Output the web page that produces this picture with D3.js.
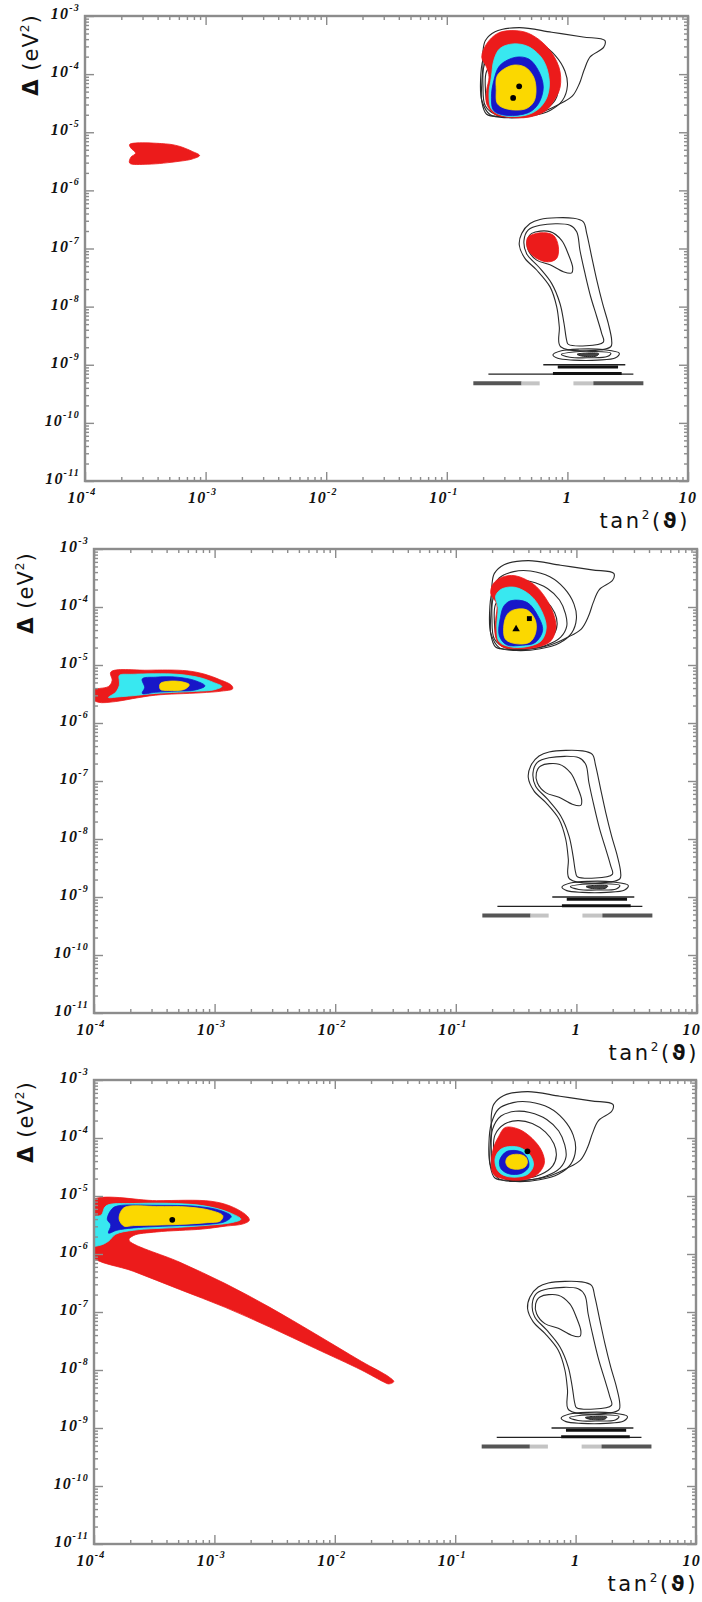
<!DOCTYPE html>
<html>
<head>
<meta charset="utf-8">
<script src="https://cdn.jsdelivr.net/npm/d3@7"></script>
<style>
  html, body { margin: 0; padding: 0; background: #fff; }
  svg { display: block; }
</style>
</head>
<body>
<svg id="chart" width="702" height="1602"></svg>
<script>
// Allowed regions in the (tan^2 theta, Delta m^2) plane.
// Every point is [log10 tan^2(theta), log10 Delta m^2 / eV^2].

// Axis ticks (decade exponents) and their labels
const xTickExps = [-4, -3, -2, -1, 0, 1];
const xTickLabels = [["10", "-4"], ["10", "-3"], ["10", "-2"], ["10", "-1"], ["1", ""], ["10", ""]];
const yTickExps = [-3, -4, -5, -6, -7, -8, -9, -10, -11];
const yTickLabels = yTickExps.map(e => ["10", String(e)]);

// Reference contours common to all three panels (thin black lines)
const lmaRefOuter = [[-0.68,-3.42],[-0.60,-3.27],[-0.40,-3.20],[-0.13,-3.28],[0.13,-3.36],[0.31,-3.42],[0.30,-3.54],
  [0.19,-3.70],[0.14,-3.92],[0.10,-4.16],[0.04,-4.38],[-0.08,-4.53],[-0.21,-4.65],[-0.38,-4.72],[-0.55,-4.73],
  [-0.67,-4.69],[-0.71,-4.47],[-0.71,-4.16],[-0.70,-3.85],[-0.70,-3.61]];
const lmaRef2 = [[-0.70,-3.75],[-0.64,-3.50],[-0.52,-3.39],[-0.38,-3.38],[-0.22,-3.48],[-0.10,-3.68],[-0.02,-3.95],
  [0.0,-4.20],[-0.04,-4.45],[-0.14,-4.62],[-0.30,-4.72],[-0.50,-4.75],[-0.64,-4.70],[-0.71,-4.45],[-0.72,-4.10]];
const lmaRef3 = [[-0.69,-3.85],[-0.62,-3.62],[-0.50,-3.54],[-0.38,-3.56],[-0.24,-3.68],[-0.14,-3.88],[-0.09,-4.12],
  [-0.08,-4.33],[-0.13,-4.52],[-0.25,-4.66],[-0.42,-4.73],[-0.58,-4.71],[-0.68,-4.55],[-0.70,-4.20]];
const lmaRef4 = [[-0.67,-3.95],[-0.59,-3.76],[-0.48,-3.70],[-0.36,-3.75],[-0.25,-3.90],[-0.18,-4.10],[-0.16,-4.30],
  [-0.19,-4.48],[-0.29,-4.63],[-0.44,-4.70],[-0.58,-4.68],[-0.66,-4.52],[-0.68,-4.25]];

const lowRefOuter = [[-0.310,-6.57],[-0.227,-6.50],[0.049,-6.48],[0.132,-6.54],[0.160,-6.74],[0.201,-7.14],[0.243,-7.54],
  [0.292,-7.95],[0.339,-8.29],[0.367,-8.58],[0.359,-8.69],[-0.056,-8.69],[-0.067,-8.35],[-0.089,-8.00],[-0.144,-7.66],
  [-0.255,-7.37],[-0.352,-7.17],[-0.399,-6.94],[-0.379,-6.74]];
const lowRefMid = [[-0.324,-6.68],[-0.227,-6.60],[0.021,-6.60],[0.077,-6.71],[0.104,-7.03],[0.146,-7.43],[0.193,-7.83],
  [0.243,-8.17],[0.284,-8.46],[0.298,-8.61],[0.008,-8.65],[-0.006,-8.58],[-0.028,-8.29],[-0.061,-7.95],[-0.131,-7.60],
  [-0.241,-7.31],[-0.338,-7.09],[-0.360,-6.86]];
const lowRefInner = [[-0.296,-6.74],[-0.144,-6.71],[-0.048,-6.86],[0.008,-7.10],[0.044,-7.33],[0.036,-7.42],[-0.034,-7.40],
  [-0.144,-7.28],[-0.255,-7.20],[-0.324,-7.03],[-0.332,-6.86]];

const vacLoopOuter = [[-0.12,-8.83],[-0.05,-8.76],[0.10,-8.73],[0.30,-8.74],[0.43,-8.80],[0.40,-8.88],[0.25,-8.92],[0.05,-8.92],[-0.08,-8.89]];
const vacLoopMid = [[-0.05,-8.82],[0.05,-8.78],[0.20,-8.77],[0.36,-8.80],[0.33,-8.86],[0.18,-8.88],[0.02,-8.87]];
const vacLoopInner = [[0.08,-8.82],[0.15,-8.80],[0.26,-8.81],[0.24,-8.85],[0.12,-8.85]];

// Narrow vacuum-oscillation strips: [log tan^2 from, log tan^2 to, log Delta m^2, kind]
const vacStrips = [
  [-0.20, 0.48, -9.00, "thin"],
  [-0.08, 0.42, -9.04, "dark"],
  [-0.655, 0.547, -9.16, "thin"],
  [-0.12, 0.45, -9.15, "dark"],
  [-0.78, -0.38, -9.32, "grey"],
  [-0.38, -0.23, -9.32, "pale"],
  [0.05, 0.215, -9.32, "pale"],
  [0.215, 0.63, -9.32, "grey"]
];

// Panel (a)
const a_smaRed = [[-3.63,-5.21],[-3.33,-5.20],[-3.22,-5.24],[-3.11,-5.33],[-3.05,-5.40],[-3.11,-5.46],[-3.22,-5.50],
  [-3.48,-5.55],[-3.63,-5.53],[-3.62,-5.43],[-3.58,-5.36],[-3.62,-5.27]];
const a_lmaRed = [[-0.46,-3.25],[-0.32,-3.30],[-0.17,-3.53],[-0.07,-3.88],[-0.06,-4.22],[-0.11,-4.45],[-0.18,-4.63],
  [-0.32,-4.74],[-0.50,-4.74],[-0.61,-4.68],[-0.67,-4.51],[-0.67,-4.28],[-0.65,-4.05],[-0.67,-3.88],[-0.71,-3.71],
  [-0.67,-3.48],[-0.58,-3.30]];
const a_lmaCyan = [[-0.45,-3.48],[-0.32,-3.53],[-0.20,-3.76],[-0.15,-4.11],[-0.17,-4.40],[-0.24,-4.60],[-0.35,-4.71],
  [-0.54,-4.71],[-0.63,-4.60],[-0.65,-4.34],[-0.63,-4.05],[-0.61,-3.76],[-0.56,-3.56]];
const a_lmaBlue = [[-0.43,-3.71],[-0.32,-3.74],[-0.24,-3.94],[-0.20,-4.22],[-0.24,-4.51],[-0.32,-4.66],[-0.50,-4.71],
  [-0.61,-4.63],[-0.63,-4.40],[-0.61,-4.11],[-0.56,-3.85]];
const a_lmaYellow = [[-0.46,-3.85],[-0.35,-3.88],[-0.28,-4.05],[-0.26,-4.28],[-0.28,-4.48],[-0.35,-4.60],[-0.50,-4.60],
  [-0.58,-4.51],[-0.59,-4.28],[-0.58,-4.02]];
const a_lowRed = [[-0.324,-6.80],[-0.227,-6.73],[-0.117,-6.77],[-0.075,-6.97],[-0.089,-7.17],[-0.158,-7.23],[-0.255,-7.17],
  [-0.324,-7.03],[-0.338,-6.88]];
const a_bestFit = [[-0.40,-4.21,"circle"],[-0.45,-4.41,"circle"]];

// Panel (b)
const b_smaRed = [[-3.86,-5.12],[-3.56,-5.09],[-3.23,-5.10],[-3.08,-5.16],[-2.96,-5.25],[-2.86,-5.35],[-2.85,-5.41],
  [-2.94,-5.45],[-3.12,-5.48],[-3.49,-5.52],[-3.68,-5.58],[-3.82,-5.63],[-3.97,-5.64],[-4.03,-5.55],[-4.02,-5.44],
  [-3.88,-5.37],[-3.85,-5.27]];
const b_smaCyan = [[-3.79,-5.18],[-3.68,-5.16],[-3.31,-5.16],[-3.12,-5.22],[-3.01,-5.30],[-2.94,-5.37],[-3.01,-5.43],
  [-3.12,-5.45],[-3.49,-5.49],[-3.68,-5.53],[-3.80,-5.55],[-3.88,-5.56],[-3.82,-5.47],[-3.79,-5.35],[-3.79,-5.27]];
const b_smaBlue = [[-3.60,-5.24],[-3.49,-5.21],[-3.31,-5.21],[-3.16,-5.27],[-3.08,-5.36],[-3.16,-5.43],[-3.31,-5.45],
  [-3.49,-5.47],[-3.60,-5.49],[-3.58,-5.39]];
const b_smaYellow = [[-3.45,-5.32],[-3.38,-5.28],[-3.27,-5.29],[-3.21,-5.34],[-3.25,-5.42],[-3.38,-5.44],[-3.45,-5.42]];
const b_lmaRed = [[-0.62,-3.49],[-0.51,-3.46],[-0.36,-3.60],[-0.26,-3.83],[-0.19,-4.12],[-0.17,-4.35],[-0.21,-4.58],
  [-0.32,-4.69],[-0.47,-4.72],[-0.62,-4.68],[-0.67,-4.52],[-0.67,-4.23],[-0.66,-3.95],[-0.71,-3.77],[-0.69,-3.60]];
const b_lmaCyan = [[-0.62,-3.69],[-0.51,-3.66],[-0.38,-3.80],[-0.29,-4.06],[-0.25,-4.35],[-0.29,-4.58],[-0.40,-4.68],
  [-0.54,-4.69],[-0.64,-4.60],[-0.66,-4.35],[-0.65,-4.01],[-0.67,-3.81]];
const b_lmaBlue = [[-0.54,-3.89],[-0.41,-3.92],[-0.32,-4.15],[-0.28,-4.40],[-0.34,-4.61],[-0.45,-4.66],[-0.58,-4.65],
  [-0.64,-4.49],[-0.63,-4.18],[-0.60,-3.98]];
const b_lmaYellow = [[-0.52,-4.05],[-0.41,-4.05],[-0.34,-4.23],[-0.34,-4.46],[-0.39,-4.61],[-0.51,-4.63],[-0.59,-4.55],
  [-0.60,-4.29],[-0.57,-4.12]];
const b_bestFit = [[-0.39,-4.20,"square"],[-0.50,-4.38,"triangle"]];

// Panel (c)
const c_smaRed = [[-4.03,-5.09],[-3.48,-5.08],[-3.03,-5.09],[-2.86,-5.18],[-2.73,-5.34],[-2.71,-5.42],[-2.76,-5.48],
  [-2.91,-5.52],[-3.10,-5.57],[-3.48,-5.62],[-3.67,-5.68],[-3.71,-5.76],
  [-3.29,-6.14],[-2.91,-6.51],[-2.54,-6.92],[-2.16,-7.38],[-1.78,-7.85],[-1.55,-8.12],[-1.51,-8.20],
  [-1.55,-8.24],[-1.59,-8.21],[-1.78,-8.00],[-2.16,-7.63],[-2.54,-7.26],[-2.91,-6.92],[-3.29,-6.61],[-3.67,-6.30],
  [-4.03,-6.02],[-4.05,-5.60]];
const c_smaCyan = [[-4.03,-5.37],[-3.94,-5.33],[-3.90,-5.17],[-3.67,-5.13],[-3.22,-5.14],[-3.01,-5.20],[-2.86,-5.30],
  [-2.78,-5.40],[-2.86,-5.46],[-3.03,-5.50],[-3.29,-5.54],[-3.67,-5.59],[-3.82,-5.66],[-3.88,-5.78],[-3.95,-5.85],
  [-4.03,-5.85]];
const c_smaBlue = [[-3.89,-5.40],[-3.85,-5.22],[-3.80,-5.17],[-3.48,-5.16],[-3.14,-5.18],[-2.95,-5.25],[-2.86,-5.35],
  [-2.91,-5.44],[-3.06,-5.49],[-3.29,-5.51],[-3.67,-5.55],[-3.81,-5.59],[-3.88,-5.64],[-3.86,-5.50]];
const c_smaYellow = [[-3.78,-5.28],[-3.74,-5.19],[-3.48,-5.18],[-3.22,-5.19],[-3.03,-5.25],[-2.93,-5.34],[-2.95,-5.43],
  [-3.06,-5.46],[-3.29,-5.49],[-3.67,-5.51],[-3.75,-5.52],[-3.79,-5.41]];
const c_lmaRed = [[-0.585,-3.82],[-0.47,-3.85],[-0.36,-4.01],[-0.28,-4.23],[-0.26,-4.44],[-0.32,-4.63],[-0.43,-4.72],
  [-0.585,-4.71],[-0.68,-4.63],[-0.70,-4.41],[-0.68,-4.16],[-0.64,-3.98]];
const c_lmaCyan = [[-0.585,-4.16],[-0.47,-4.16],[-0.38,-4.29],[-0.35,-4.47],[-0.40,-4.63],[-0.55,-4.67],[-0.64,-4.58],
  [-0.67,-4.38],[-0.64,-4.23]];
const c_lmaBlue = [[-0.57,-4.23],[-0.45,-4.24],[-0.40,-4.35],[-0.39,-4.50],[-0.45,-4.61],[-0.55,-4.62],[-0.62,-4.53],
  [-0.63,-4.38]];
const c_lmaYellow = [[-0.49,-4.28],[-0.42,-4.32],[-0.40,-4.41],[-0.42,-4.50],[-0.49,-4.54],[-0.56,-4.50],[-0.58,-4.41],
  [-0.56,-4.32]];
const c_bestFit = [[-3.35,-5.41,"circle"],[-0.40,-4.23,"circle"]];

// ---------------------------------------------------------------------------
const COLORS = { red: "#ec1b1b", cyan: "#38e8f0", blue: "#1717c8", yellow: "#fbd800" };
const STRIP_STYLE = {
  thin: { stroke: "#222", width: 1.3 },
  dark: { stroke: "#111", width: 3 },
  grey: { stroke: "#555", width: 4 },
  pale: { stroke: "#c4c4c4", width: 4 }
};
const FRAME_COLOR = "#8c8c8c";
const SVG_WIDTH = 702;

const panels = [
  { frame: { left: 85, top: 16, right: 688, bottom: 481 }, titleX: 38, titleY: 55,
    fills: [[a_smaRed, "red"], [a_lmaRed, "red"], [a_lmaCyan, "cyan"], [a_lmaBlue, "blue"], [a_lmaYellow, "yellow"], [a_lowRed, "red"]],
    best: a_bestFit },
  { frame: { left: 94, top: 549, right: 697, bottom: 1013 }, titleX: 33, titleY: 593,
    fills: [[b_smaRed, "red"], [b_smaCyan, "cyan"], [b_smaBlue, "blue"], [b_smaYellow, "yellow"],
            [b_lmaRed, "red"], [b_lmaCyan, "cyan"], [b_lmaBlue, "blue"], [b_lmaYellow, "yellow"]],
    best: b_bestFit },
  { frame: { left: 94, top: 1080, right: 696, bottom: 1544 }, titleX: 33, titleY: 1122,
    fills: [[c_smaRed, "red"], [c_smaCyan, "cyan"], [c_smaBlue, "blue"], [c_smaYellow, "yellow"],
            [c_lmaRed, "red"], [c_lmaCyan, "cyan"], [c_lmaBlue, "blue"], [c_lmaYellow, "yellow"]],
    best: c_bestFit }
];

const refLines = [lmaRefOuter, lmaRef2, lmaRef3, lmaRef4, lowRefOuter, lowRefMid, lowRefInner, vacLoopOuter, vacLoopMid];

const svg = d3.select("#chart");
const defs = svg.append("defs");
const p10 = e => Math.pow(10, e);

// log minor ticks 2..9 within each decade
function minorTicks(lo, hi) {
  const out = [];
  for (let d = lo; d < hi; d++) for (let m = 2; m <= 9; m++) out.push(m * p10(d));
  return out;
}

panels.forEach((P, i) => {
  const f = P.frame;
  const x = d3.scaleLog().domain([1e-4, 10]).range([f.left, f.right]);
  const y = d3.scaleLog().domain([1e-11, 1e-3]).range([f.bottom, f.top]);
  const g = svg.append("g");

  const clipId = "clip" + i;
  defs.append("clipPath").attr("id", clipId).append("rect")
    .attr("x", f.left).attr("y", f.top).attr("width", f.right - f.left).attr("height", f.bottom - f.top);

  const plot = g.append("g").attr("clip-path", `url(#${clipId})`);
  const curve = d3.line().x(d => x(p10(d[0]))).y(d => y(p10(d[1]))).curve(d3.curveCatmullRomClosed.alpha(0.5));

  // reference contour lines
  plot.selectAll("path.ref").data(refLines).join("path")
    .attr("class", "ref").attr("d", curve)
    .attr("fill", "none").attr("stroke", "#2a2a2a").attr("stroke-width", 1.1);
  plot.append("path").attr("d", curve(vacLoopInner)).attr("fill", "#444").attr("stroke", "#222").attr("stroke-width", 1);

  plot.selectAll("line.strip").data(vacStrips).join("line")
    .attr("class", "strip")
    .attr("x1", d => x(p10(d[0]))).attr("x2", d => x(p10(d[1])))
    .attr("y1", d => y(p10(d[2]))).attr("y2", d => y(p10(d[2])))
    .attr("stroke", d => STRIP_STYLE[d[3]].stroke)
    .attr("stroke-width", d => STRIP_STYLE[d[3]].width);

  // allowed regions
  plot.selectAll("path.region").data(P.fills).join("path")
    .attr("class", "region").attr("d", d => curve(d[0]))
    .attr("fill", d => COLORS[d[1]]).attr("stroke", d => COLORS[d[1]]).attr("stroke-width", 0.8);

  // best-fit points
  const symType = { circle: d3.symbolCircle, square: d3.symbolSquare, triangle: d3.symbolTriangle };
  plot.selectAll("path.best").data(P.best).join("path")
    .attr("class", "best")
    .attr("transform", d => `translate(${x(p10(d[0]))},${y(p10(d[1]))})`)
    .attr("d", d => d3.symbol().type(symType[d[2]]).size(d[2] === "circle" ? 26 : 24)())
    .attr("fill", "#000");

  // frame with inward ticks on all four sides
  const xMaj = xTickExps.map(p10), yMaj = yTickExps.map(p10);
  const xMin = minorTicks(-4, 1), yMin = minorTicks(-11, -3);
  const styleAxis = sel => {
    sel.select(".domain").remove();
    sel.selectAll("line").attr("stroke", FRAME_COLOR).attr("stroke-width", 1.4);
  };
  const axes = [
    [d3.axisBottom(x), `translate(0,${f.bottom})`, xMaj, xMin],
    [d3.axisTop(x), `translate(0,${f.top})`, xMaj, xMin],
    [d3.axisLeft(y), `translate(${f.left},0)`, yMaj, yMin],
    [d3.axisRight(y), `translate(${f.right},0)`, yMaj, yMin]
  ];
  axes.forEach(([ax, tr, maj, min]) => {
    g.append("g").attr("transform", tr)
      .call(ax.tickValues(min).tickSize(-4).tickFormat(""))
      .call(styleAxis);
    g.append("g").attr("transform", tr)
      .call(ax.tickValues(maj).tickSize(-9).tickFormat(""))
      .call(styleAxis);
  });
  g.append("rect")
    .attr("x", f.left).attr("y", f.top).attr("width", f.right - f.left).attr("height", f.bottom - f.top)
    .attr("fill", "none").attr("stroke", FRAME_COLOR).attr("stroke-width", 2.4);

  // tick labels
  const labelFont = sel => sel.attr("font-family", "Liberation Serif, serif")
    .attr("font-weight", "bold").attr("font-style", "italic").attr("fill", "#111")
    .attr("letter-spacing", 1.2);
  xTickExps.forEach((e, k) => {
    const [base, sup] = xTickLabels[k];
    const px = x(p10(e));
    const t = g.append("text").attr("y", f.bottom + 22)
      .attr("font-size", 16).call(labelFont);
    // keep the last label inside the page
    if (px + 10 > SVG_WIDTH) t.attr("x", SVG_WIDTH - 1).attr("text-anchor", "end");
    else t.attr("x", px - (sup ? 3 : 0)).attr("text-anchor", "middle");
    t.append("tspan").text(base);
    if (sup) t.append("tspan").attr("font-size", 10).attr("dy", -8).text(sup);
  });
  yTickExps.forEach((e, k) => {
    const [base, sup] = yTickLabels[k];
    const t = g.append("text").attr("x", f.left - 5).attr("y", y(p10(e)) + 3)
      .attr("text-anchor", "end").attr("font-size", 16).call(labelFont);
    t.append("tspan").text(base);
    t.append("tspan").attr("font-size", 10).attr("dy", -8).text(sup);
  });

  // axis titles
  const xt = g.append("text").attr("x", Math.min(f.right + 2, SVG_WIDTH - 1)).attr("y", f.bottom + 47)
    .attr("text-anchor", "end").attr("font-family", "DejaVu Sans, sans-serif")
    .attr("font-size", 21).attr("letter-spacing", 2.6).attr("fill", "#111");
  xt.append("tspan").text("tan");
  xt.append("tspan").attr("font-size", 12).attr("dy", -9).text("2");
  xt.append("tspan").attr("dy", 9).text("(");
  xt.append("tspan").attr("font-weight", "bold").text("ϑ");
  xt.append("tspan").text(")");

  const yt = g.append("text")
    .attr("transform", `translate(${P.titleX},${P.titleY}) rotate(-90)`)
    .attr("text-anchor", "middle").attr("font-family", "DejaVu Sans, sans-serif")
    .attr("font-size", 21).attr("letter-spacing", 1).attr("fill", "#111");
  yt.append("tspan").attr("font-weight", "bold").text("Δ");
  yt.append("tspan").text(" (eV");
  yt.append("tspan").attr("font-size", 12).attr("dy", -9).text("2");
  yt.append("tspan").attr("dy", 9).text(")");
});
</script>
</body>
</html>
